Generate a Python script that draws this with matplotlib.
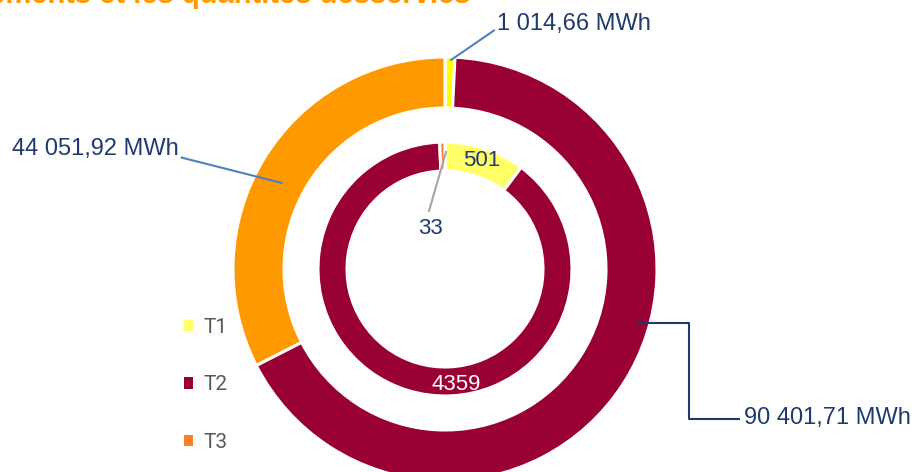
import matplotlib
matplotlib.use('Agg')
import matplotlib.pyplot as plt
from matplotlib.patches import Patch

# donnees
classes = ['T1', 'T2', 'T3']
quantites = [1014.66, 90401.71, 44051.92]      # MWh (anneau exterieur)
abonnes = [501, 4359, 33]                      # anneau interieur
etiquettes_ext = ['1 014,66 MWh', '90 401,71 MWh', '44 051,92 MWh']

cores_ext = ['#FFFF00', '#990033', '#FF9900']
cores_int = ['#FFFF66', '#990033', '#FF7F27']
navy = '#1F3A6E'

W, H = 916, 472
def py(y):  # pixel depuis le haut -> coordonnees
    return H - y

plt.rcParams['font.family'] = ['Liberation Sans', 'DejaVu Sans']
fig = plt.figure(figsize=(W / 100, H / 100), dpi=100)
ax = fig.add_axes([0, 0, 1, 1])

centre = (445, py(269))
edge = {'edgecolor': 'white', 'linewidth': 2.2}

w_ext, _ = ax.pie(quantites, colors=cores_ext, radius=212, center=centre,
                  startangle=90, counterclock=False,
                  wedgeprops=dict(width=51, **edge))
w_int, _ = ax.pie(abonnes, colors=cores_int, radius=127, center=centre,
                  startangle=90, counterclock=False,
                  wedgeprops=dict(width=29, **edge))

ax.set_xlim(0, W)
ax.set_ylim(0, H)
ax.set_aspect('equal')
ax.axis('off')

# etiquettes exterieures
ax.annotate(etiquettes_ext[0], xy=(451, py(60)), xytext=(497, py(24)),
            fontsize=17, color=navy, va='center', ha='left',
            arrowprops=dict(arrowstyle='-', color='#4F81BD', lw=1.5,
                            shrinkA=0, shrinkB=0, relpos=(0, 0.3)))
ax.annotate(etiquettes_ext[2], xy=(282, py(183)), xytext=(12, py(149)),
            fontsize=17, color=navy, va='center', ha='left',
            arrowprops=dict(arrowstyle='-', color='#4F81BD', lw=1.5,
                            shrinkA=0, shrinkB=0, relpos=(0.97, 0.2)))
ax.plot([638, 689, 689, 739], [py(323), py(323), py(419), py(419)],
        color=navy, lw=1.5)
ax.text(744, py(418), etiquettes_ext[1], fontsize=17, color=navy,
        va='center', ha='left')

# etiquettes interieures
ax.text(482, py(160), str(abonnes[0]), fontsize=16, color=navy,
        ha='center', va='center')
ax.text(456, py(384), str(abonnes[1]), fontsize=16, color='white',
        ha='center', va='center')
ax.plot([446, 429], [py(152), py(211)], color='#A6A6A6', lw=1.5)
ax.text(430, py(229), str(abonnes[2]), fontsize=16, color=navy,
        ha='center', va='center')

# legende
handles = [Patch(facecolor=c) for c in cores_int]
leg = ax.legend(handles, classes, loc='center left',
                bbox_to_anchor=(184 / W, 1 - 385 / H),
                bbox_transform=fig.transFigure, frameon=False,
                borderpad=0, borderaxespad=0, handlelength=0.45,
                handleheight=0.45, handletextpad=0.5, labelspacing=1.85,
                prop={'family': 'Roboto', 'size': 15})
for t in leg.get_texts():
    t.set_color('#595959')

# titre (coupe en haut)
fig.text(470 / W, 1 - 3 / H, 'abonnements et les quantités desservies',
         ha='right', va='baseline', fontsize=21, fontweight='bold',
         color='#FF9900')

plt.savefig('out.png', dpi=100)
